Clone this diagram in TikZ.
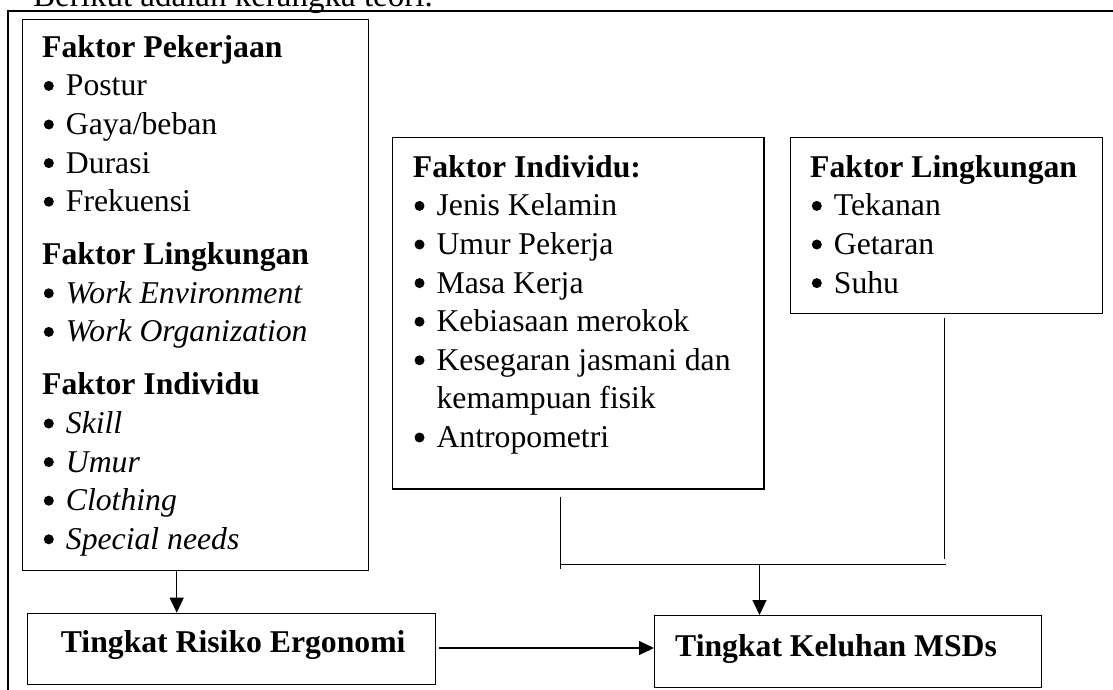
\documentclass[tikz,border=0pt]{standalone}
\usepackage{fontspec}
\setmainfont{Liberation Serif}
\usetikzlibrary{arrows.meta}
\newcommand\bul{\makebox[23.7pt][l]{\hspace{1.6pt}\tikz[baseline=0pt]\fill (5pt,10pt) circle (5pt);}}
\newcommand\ind{\hspace*{23.7pt}}
\begin{document}
\begin{tikzpicture}[x=1pt,y=-1pt,
  box/.style={draw, line width=1.4pt, inner sep=0pt, anchor=north west},
  conn/.style={line width=1.2pt},
  arr/.style={conn, -{Triangle[length=15pt,width=14pt]}},
  txt/.style={inner sep=0pt, anchor=base west, font=\fontsize{31.7}{38.6}\selectfont},
  frame/.style={line width=1.8pt}
]
\useasboundingbox (0,0) rectangle (1113,689);
\fill[white] (0,0) rectangle (1113,689);

% title (cut at the top of the page, as in the reference)
\node[txt, font=\fontsize{33}{38}\selectfont] (title) at (33,6) {Berikut adalah kerangka teori.};

% outer frame
\draw[frame] (1116,11) -- (8.3,11) -- (8.3,692);

% boxes
\node[box, minimum width=346.5pt, minimum height=551pt] (b1) at (21.5,19) {};
\node[box, minimum width=371.5pt, minimum height=351.6pt] (b2) at (391.7,136.7) {};
\node[box, minimum width=312pt, minimum height=176pt] (b3) at (790,136.7) {};
\node[box, minimum width=408.2pt, minimum height=71.3pt] (risk) at (26.8,612.7) {};
\node[box, minimum width=386.7pt, minimum height=71.7pt] (kel) at (654,615) {};

% texts
\node[txt] (t1) at (42,57.3) {\parbox[t]{320pt}{%
\textbf{Faktor Pekerjaan}\\
\bul Postur\\
\bul Gaya/beban\\
\bul Durasi\\
\bul Frekuensi\\[14.4pt]
\textbf{Faktor Lingkungan}\\
\bul\textit{Work Environment}\\
\bul\textit{Work Organization}\\[14.4pt]
\textbf{Faktor Individu}\\
\bul\textit{Skill}\\
\bul\textit{Umur}\\
\bul\textit{Clothing}\\
\bul\textit{Special needs}}};

\node[txt] (t2) at (412.7,177.3) {\parbox[t]{345pt}{%
\textbf{Faktor Individu:}\\
\bul Jenis Kelamin\\
\bul Umur Pekerja\\
\bul Masa Kerja\\
\bul Kebiasaan merokok\\
\bul Kesegaran jasmani dan\\
\ind kemampuan fisik\\
\bul Antropometri}};

\node[txt] (t3) at (810,177.3) {\parbox[t]{290pt}{%
\textbf{Faktor Lingkungan}\\
\bul Tekanan\\
\bul Getaran\\
\bul Suhu}};

\node[txt] (t4) at (60.7,652.3) {\textbf{Tingkat Risiko Ergonomi}};
\node[txt] (t5) at (675,656) {\textbf{Tingkat Keluhan MSDs}};

% connectors
\coordinate (a1) at (176.7,570);
\draw[arr] (a1) -- (a1 |- risk.north);

\coordinate (h1) at (439,648);
\draw[arr] (h1) -- (h1 -| kel.west);

\coordinate (mv1) at (560.6,496.7);
\coordinate (mv2) at (560.6,569);
\coordinate (hl1) at (560.6,564.3);
\coordinate (hl2) at (945.7,564.3);
\coordinate (rv1) at (944.3,317.7);
\coordinate (rv2) at (944.3,559);
\coordinate (dv) at (759.5,564.3);
\draw[conn] (mv1) -- (mv2);
\draw[conn] (hl1) -- (hl2);
\draw[conn] (rv1) -- (rv2);
\draw[arr] (dv) -- (dv |- kel.north);
\end{tikzpicture}
\end{document}
